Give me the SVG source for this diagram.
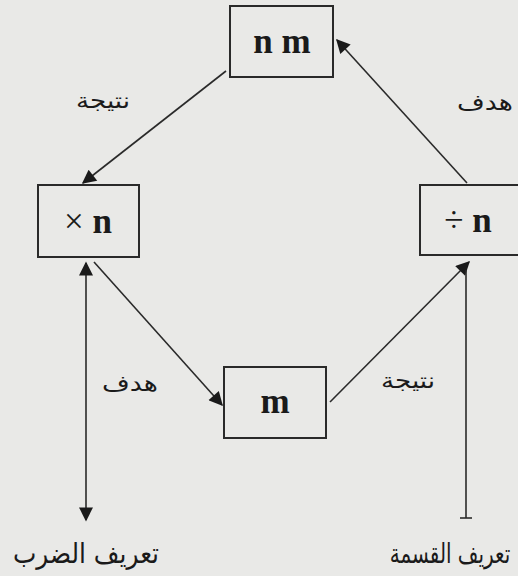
<svg xmlns="http://www.w3.org/2000/svg" width="518" height="576" viewBox="0 0 518 576">
<defs>
<style>
.box{fill:none;stroke:#2a2a2a;stroke-width:2}
.ln{fill:none;stroke:#2a2a2a;stroke-width:1.6}
.t{font-family:"Liberation Serif",serif;font-size:35px;fill:#1a1a1a;text-anchor:middle}
.b{font-weight:bold}
.ar{font-family:"DejaVu Sans","Noto Sans",sans-serif;font-size:22px;fill:#1a1a1a;text-anchor:middle}
.arb{font-family:"DejaVu Sans","Noto Sans",sans-serif;font-size:28px;fill:#1a1a1a;text-anchor:middle}
.arc{font-family:"DejaVu Sans","Noto Sans",sans-serif;font-size:21px;fill:#1a1a1a;text-anchor:middle}
</style>
<marker id="ahL" viewBox="0 0 10 10" refX="9" refY="5" markerWidth="18" markerHeight="14" markerUnits="userSpaceOnUse" orient="auto-start-reverse">
<path d="M0,0 L10,5 L0,10 Z" fill="#1a1a1a"/>
</marker>
</defs>
<rect width="518" height="576" fill="#e9e9e7"/>
<g id="connectors">
<line class="ln" x1="226" y1="71" x2="83" y2="183" marker-end="url(#ahL)"/>
<line class="ln" x1="467" y1="183" x2="337" y2="40" marker-end="url(#ahL)"/>
<line class="ln" x1="94" y1="262" x2="222" y2="405" marker-end="url(#ahL)"/>
<line class="ln" x1="330" y1="402" x2="469" y2="262" marker-end="url(#ahL)"/>
<line class="ln" x1="86" y1="263" x2="86" y2="520" marker-start="url(#ahL)" marker-end="url(#ahL)"/>
<line class="ln" x1="466" y1="270" x2="466" y2="518"/>
<line class="ln" x1="460" y1="518" x2="472" y2="518"/>
</g>
<g id="node-nm">
<rect class="box" x="230" y="6" width="103" height="71"/>
<text class="t b" x="282" y="53">n m</text>
</g>
<g id="node-times">
<rect class="box" x="38" y="185" width="101" height="72"/>
<text class="t" x="88" y="233">× <tspan class="b">n</tspan></text>
</g>
<g id="node-div">
<rect class="box" x="420" y="185" width="100" height="70"/>
<text class="t" x="468" y="232">÷ <tspan class="b">n</tspan></text>
</g>
<g id="node-m">
<rect class="box" x="224" y="367" width="102" height="71"/>
<text class="t b" x="275" y="413">m</text>
</g>
<g id="labels">
<text class="ar" x="103" y="108" textLength="54" lengthAdjust="spacingAndGlyphs">نتيجة</text>
<text class="ar" x="485" y="110" textLength="56" lengthAdjust="spacingAndGlyphs">هدف</text>
<text class="ar" x="130" y="391" textLength="56" lengthAdjust="spacingAndGlyphs">هدف</text>
<text class="ar" x="408" y="388" textLength="54" lengthAdjust="spacingAndGlyphs">نتيجة</text>
<text class="arb" x="86" y="563" textLength="146" lengthAdjust="spacingAndGlyphs">تعريف الضرب</text>
<text class="arc" transform="translate(450,563) scale(0.95,1.3)" x="0" y="0">تعريف القسمة</text>
</g>
</svg>
